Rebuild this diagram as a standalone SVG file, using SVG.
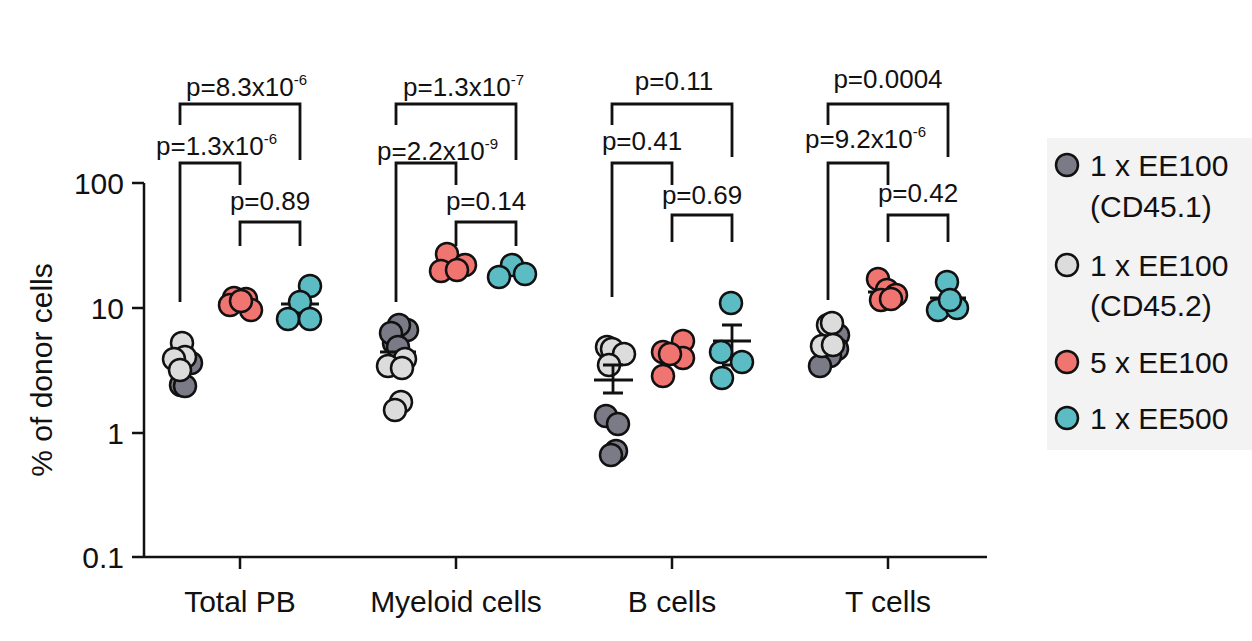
<svg xmlns="http://www.w3.org/2000/svg" width="1252" height="641" viewBox="0 0 1252 641">
<style>
text{font-family:"Liberation Sans",Arial,sans-serif;font-size:26px;fill:#111}
.big{font-size:30px}
.ax{stroke:#111;stroke-width:2.5;fill:none}
.br{stroke:#111;stroke-width:2.8;fill:none}
circle{stroke:#111;stroke-width:2.5}
.d{fill:#7b7b88}.l{fill:#dcdcdc}.r{fill:#f07470}.t{fill:#5bbcc4}
.m{stroke:#111;stroke-width:2.8}
</style>
<rect width="1252" height="641" fill="#fff"/>
<g id="axes">
<path class="ax" d="M144 183V557H987M132 183H144M132 308H144M132 433H144M132 557H144M240 557V569M456 557V569M672 557V569M888 557V569"/>
<text class="big" x="124" y="194" text-anchor="end">100</text>
<text class="big" x="124" y="319" text-anchor="end">10</text>
<text class="big" x="124" y="444" text-anchor="end">1</text>
<text class="big" x="124" y="568" text-anchor="end">0.1</text>
<text class="big" transform="translate(52,370) rotate(-90)" text-anchor="middle">% of donor cells</text>
<text class="big" x="240" y="612" text-anchor="middle">Total PB</text>
<text class="big" x="456" y="612" text-anchor="middle">Myeloid cells</text>
<text class="big" x="672" y="612" text-anchor="middle">B cells</text>
<text class="big" x="888" y="612" text-anchor="middle">T cells</text>
</g>
<g id="connectors">
<path class="br" d="M180 302V163H240V185M180 125V104H300V160M240 246V222H300V246"/>
<path class="br" d="M396 302V163H456V185M396 125V104H516V160M456 246V222H516V246"/>
<path class="br" d="M612 297V163H672V185M612 125V104H732V157M672 242V215H732V242"/>
<path class="br" d="M828 300V163H888V185M828 125V104H948V157M888 242V215H948V242"/>
</g>
<g id="labels">
<text x="156" y="155">p=1.3x10<tspan font-size="15" dy="-11">-6</tspan></text>
<text x="186" y="96">p=8.3x10<tspan font-size="15" dy="-11">-6</tspan></text>
<text x="270" y="210" text-anchor="middle">p=0.89</text>
<text x="377" y="160">p=2.2x10<tspan font-size="15" dy="-11">-9</tspan></text>
<text x="403" y="96">p=1.3x10<tspan font-size="15" dy="-11">-7</tspan></text>
<text x="486" y="210" text-anchor="middle">p=0.14</text>
<text x="642" y="150" text-anchor="middle">p=0.41</text>
<text x="674" y="90" text-anchor="middle">p=0.11</text>
<text x="702" y="204" text-anchor="middle">p=0.69</text>
<text x="805" y="148">p=9.2x10<tspan font-size="15" dy="-11">-6</tspan></text>
<text x="888" y="88" text-anchor="middle">p=0.0004</text>
<text x="918" y="202" text-anchor="middle">p=0.42</text>
</g>
<g id="totalpb">
<circle class="d" cx="181" cy="385" r="11"/><circle class="d" cx="185" cy="386" r="11"/><circle class="d" cx="191" cy="363" r="11"/>
<circle class="l" cx="182" cy="343" r="11"/><circle class="l" cx="185" cy="357" r="11"/><circle class="l" cx="174" cy="359" r="11"/><circle class="l" cx="180" cy="370" r="11"/>
<line class="m" x1="218" y1="303" x2="260" y2="303"/>
<circle class="r" cx="234" cy="298" r="11"/><circle class="r" cx="246" cy="299" r="11"/><circle class="r" cx="230" cy="305" r="11"/><circle class="r" cx="251" cy="310" r="11"/><circle class="r" cx="241" cy="301" r="11"/>
<line class="m" x1="281" y1="304" x2="319" y2="304"/>
<circle class="t" cx="310" cy="286" r="11"/><circle class="t" cx="300" cy="302" r="11"/><circle class="t" cx="288" cy="319" r="11"/><circle class="t" cx="310" cy="319" r="11"/>
</g>
<g id="myeloid">
<circle class="d" cx="402" cy="332" r="11"/><circle class="d" cx="407" cy="330" r="11"/><circle class="d" cx="399" cy="325" r="11"/><circle class="d" cx="394" cy="343" r="11"/><circle class="d" cx="391" cy="333" r="11"/><circle class="d" cx="398" cy="347" r="11"/>
<line class="m" x1="380" y1="352" x2="416" y2="352"/>
<circle class="l" cx="405" cy="359" r="11"/><circle class="l" cx="388" cy="366" r="11"/><circle class="l" cx="402" cy="368" r="11"/><circle class="l" cx="401" cy="402" r="11"/><circle class="l" cx="395" cy="410" r="11"/>
<line class="m" x1="436" y1="263" x2="476" y2="263"/>
<circle class="r" cx="447" cy="254" r="11"/><circle class="r" cx="465" cy="265" r="11"/><circle class="r" cx="441" cy="271" r="11"/><circle class="r" cx="457" cy="270" r="11"/>
<line class="m" x1="500" y1="271" x2="530" y2="271"/>
<circle class="t" cx="512" cy="265" r="11"/><circle class="t" cx="525" cy="274" r="11"/><circle class="t" cx="499" cy="277" r="11"/>
</g>
<g id="bcells">
<circle class="l" cx="607" cy="347" r="11"/><circle class="l" cx="612" cy="349" r="11"/><circle class="l" cx="624" cy="354" r="11"/><circle class="l" cx="609" cy="365" r="11"/>
<path class="m" d="M594 380H633M613 365V393M603 365H623M603 393H623"/>
<circle class="d" cx="606" cy="416" r="11"/><circle class="d" cx="618" cy="424" r="11"/><circle class="d" cx="616" cy="451" r="11"/><circle class="d" cx="611" cy="455" r="11"/>
<circle class="r" cx="663" cy="352" r="11"/><circle class="r" cx="683" cy="341" r="11"/><circle class="r" cx="683" cy="358" r="11"/><circle class="r" cx="663" cy="376" r="11"/><circle class="r" cx="670" cy="354" r="11"/>
<path class="m" d="M713 341H751M732 325V365M722 325H742M722 365H742"/>
<circle class="t" cx="731" cy="303" r="11"/><circle class="t" cx="721" cy="352" r="11"/><circle class="t" cx="742" cy="362" r="11"/><circle class="t" cx="722" cy="378" r="11"/>
</g>
<g id="tcells">
<circle class="d" cx="838" cy="335" r="11"/><circle class="d" cx="837" cy="349" r="11"/><circle class="d" cx="830" cy="356" r="11"/><circle class="d" cx="820" cy="366" r="11"/>
<circle class="l" cx="828" cy="325" r="11"/><circle class="l" cx="832" cy="323" r="11"/><circle class="l" cx="822" cy="346" r="11"/><circle class="l" cx="833" cy="345" r="11"/>
<line class="m" x1="868" y1="292" x2="905" y2="292"/>
<circle class="r" cx="878" cy="279" r="11"/><circle class="r" cx="887" cy="290" r="11"/><circle class="r" cx="896" cy="295" r="11"/><circle class="r" cx="881" cy="300" r="11"/><circle class="r" cx="891" cy="299" r="11"/>
<path class="m" d="M930 298H966M947 292V304"/>
<circle class="t" cx="947" cy="282" r="11"/><circle class="t" cx="938" cy="310" r="11"/><circle class="t" cx="957" cy="308" r="11"/><circle class="t" cx="950" cy="300" r="11"/>
</g>
<g id="legend">
<rect x="1047" y="138" width="205" height="312" fill="#f3f3f3"/>
<circle class="d" cx="1067" cy="165" r="11"/>
<text class="big" x="1090" y="176">1 x EE100</text><text class="big" x="1090" y="217">(CD45.1)</text>
<circle class="l" cx="1067" cy="265" r="11"/>
<text class="big" x="1090" y="276">1 x EE100</text><text class="big" x="1090" y="316">(CD45.2)</text>
<circle class="r" cx="1067" cy="362" r="11"/>
<text class="big" x="1090" y="373">5 x EE100</text>
<circle class="t" cx="1067" cy="418" r="11"/>
<text class="big" x="1090" y="429">1 x EE500</text>
</g>
</svg>
